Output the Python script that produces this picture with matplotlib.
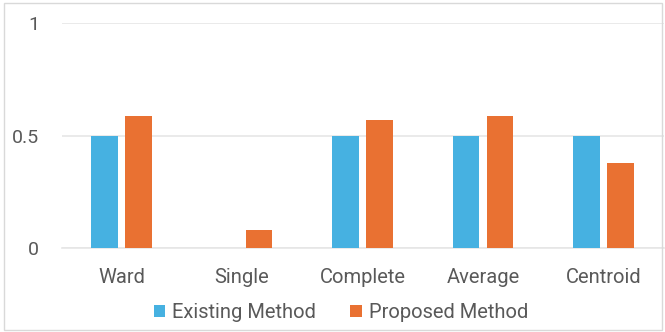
import matplotlib
matplotlib.use("Agg")
import matplotlib.pyplot as plt
import numpy as np
from matplotlib.patches import Rectangle

categories = ["Ward", "Single", "Complete", "Average", "Centroid"]
existing = [0.5, 0.0, 0.5, 0.5, 0.5]
proposed = [0.59, 0.08, 0.57, 0.59, 0.38]
series_names = ["Existing Method", "Proposed Method"]
y_ticks = [0, 0.5, 1]
y_tick_labels = ["0", "0.5", "1"]

blue = "#46B1E1"
orange = "#E97132"
text_color = "#595959"
grid_color = "#E6E6E6"

plt.rcParams["font.family"] = ["Roboto", "DejaVu Sans"]

fig = plt.figure(figsize=(6.65, 3.32), dpi=100)
ax = fig.add_axes([61.5 / 665, 1 - 248.3 / 332, 602 / 665, 225 / 332])

x = np.arange(len(categories))
w = 0.222
gap = 0.06
ax.bar(x - (w + gap) / 2, existing, width=w, color=blue, label=series_names[0], zorder=3)
ax.bar(x + (w + gap) / 2, proposed, width=w, color=orange, label=series_names[1], zorder=3)

ax.set_xlim(-0.5, len(categories) - 0.5)
ax.set_ylim(0, 1)
ax.set_yticks(y_ticks)
ax.set_yticklabels(y_tick_labels)
ax.set_xticks(x)
ax.set_xticklabels(categories)
ax.yaxis.grid(True, color=grid_color, linewidth=1.2, zorder=0)
ax.tick_params(axis="both", length=0, colors=text_color)
ax.tick_params(axis="x", labelsize=14.5, pad=14)
ax.tick_params(axis="y", labelsize=14, pad=16)
for s in ["top", "right", "left"]:
    ax.spines[s].set_visible(False)
ax.spines["bottom"].set_color(grid_color)
ax.spines["bottom"].set_linewidth(1.2)

leg = fig.legend(loc="center", bbox_to_anchor=(341 / 665, 1 - 313 / 332), ncol=2,
                 frameon=False, fontsize=14.5, handlelength=0.55, handleheight=0.55,
                 handletextpad=0.35, columnspacing=1.7)
for t in leg.get_texts():
    t.set_color(text_color)

# outer chart border
fig.patches.append(Rectangle((0.006, 0.006), 0.99, 0.985, transform=fig.transFigure,
                             fill=False, edgecolor="#D9D9D9", linewidth=1.0))

fig.savefig("out.png", dpi=100, facecolor="white")
